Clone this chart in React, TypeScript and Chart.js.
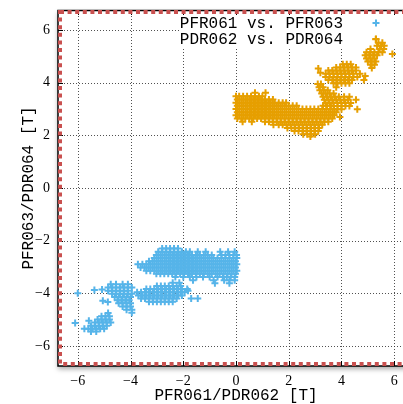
import React, { useEffect, useRef } from "react";
import { Chart, registerables } from "chart.js";
Chart.register(...registerables);

const SERIES_NAMES = ["PFR061 vs. PFR063", "PDR062 vs. PDR064"];
const SERIES_COLORS = ["#56B4E9", "#E69F00"];
const X_TITLE = "PFR061/PDR062 [T]";
const Y_TITLE = "PFR063/PDR064 [T]";
const X_TICKS = [-6, -4, -2, 0, 2, 4, 6];
const Y_TICKS = [-6, -4, -2, 0, 2, 4, 6];
const X_RANGE = [-6.75, 6.75];
const Y_RANGE = [-6.76, 6.76];

// Rows: [y, x1, x2, ...]
const blueUpperRows = [
  [-2.30, -2.8, -2.65, -2.5, -2.35, -2.2],
  [-2.42, -2.95, -2.8, -2.65, -2.5, -2.35, -2.2, -2.05, -1.9, -1.75, -1.45, -1.15, -0.6, -0.3, -0.05],
  [-2.54, -3.02, -2.87, -2.72, -2.57, -2.42, -2.27, -2.12, -1.97, -1.82, -1.67, -1.52, -1.37, -1.22, -1.07, -0.92, -0.55, -0.4, -0.25, -0.1, 0.02],
  [-2.66, -3.1, -2.95, -2.8, -2.65, -2.5, -2.35, -2.2, -2.05, -1.9, -1.75, -1.6, -1.45, -1.3, -1.15, -1.0, -0.85, -0.7, -0.55, -0.4, -0.25, -0.1, 0.03],
  [-2.78, -3.3, -3.17, -3.02, -2.87, -2.72, -2.57, -2.42, -2.27, -2.12, -1.97, -1.82, -1.67, -1.52, -1.37, -1.22, -1.07, -0.92, -0.77, -0.62, -0.47, -0.32, -0.17, -0.02],
  [-2.90, -3.72, -3.55, -3.4, -3.25, -3.1, -2.95, -2.8, -2.65, -2.5, -2.35, -2.2, -2.05, -1.9, -1.75, -1.6, -1.45, -1.3, -1.15, -1.0, -0.85, -0.7, -0.55, -0.4, -0.25, -0.1, 0.03],
  [-3.02, -3.62, -3.47, -3.32, -3.17, -3.02, -2.87, -2.72, -2.57, -2.42, -2.27, -2.12, -1.97, -1.82, -1.67, -1.52, -1.37, -1.22, -1.07, -0.92, -0.77, -0.62, -0.47, -0.32, -0.17, -0.02],
  [-3.14, -3.4, -3.25, -3.1, -2.95, -2.8, -2.65, -2.5, -2.35, -2.2, -2.05, -1.9, -1.75, -1.6, -1.45, -1.3, -1.15, -1.0, -0.85, -0.7, -0.55, -0.4, -0.25, -0.1, 0.03],
  [-3.26, -3.02, -2.87, -2.72, -2.57, -2.42, -2.27, -2.12, -1.97, -1.82, -1.67, -1.52, -1.37, -1.22, -1.07, -0.92, -0.77, -0.62, -0.47, -0.32, -0.17, -0.02],
  [-3.38, -2.3, -2.0, -1.75, -1.5, -1.25, -1.0, -0.7, -0.5, -0.35, -0.2, -0.05],
  [-3.50, -1.63, -0.85, -0.45, -0.25, -0.05],
  [-3.62, -0.8, -0.25],
];
const blueMiddleRows = [
  [-3.60, -2.4, -2.15],
  [-3.72, -3.0, -2.85, -2.7, -2.55, -2.4, -2.25, -2.1],
  [-3.84, -3.4, -3.25, -3.1, -2.95, -2.8, -2.65, -2.5, -2.35, -2.2, -2.05, -1.85],
  [-3.96, -3.75, -3.6, -3.45, -3.3, -3.15, -3.0, -2.85, -2.7, -2.55, -2.4, -2.25, -2.1, -1.95],
  [-4.08, -3.7, -3.55, -3.4, -3.25, -3.1, -2.95, -2.8, -2.65, -2.5, -2.35, -2.2, -2.05],
  [-4.20, -3.6, -3.45, -3.3, -3.15, -3.0, -2.85, -2.7, -2.55, -2.4, -2.25, -1.7, -1.45],
  [-4.32, -3.3, -3.15, -3.0, -2.85, -2.7, -2.55, -2.4],
];
const blueLeftRows = [
  [-3.66, -4.75, -4.55, -4.3, -4.1],
  [-3.78, -4.85, -4.7, -4.55, -4.4, -4.25, -4.1, -3.95],
  [-3.90, -4.85, -4.7, -4.55, -4.4, -4.25, -4.1],
  [-4.02, -4.7, -4.55, -4.4, -4.25, -4.1, -3.95],
  [-4.14, -4.6, -4.45, -4.3, -4.15, -4.0],
  [-4.26, -4.5, -4.35, -4.2, -4.05],
  [-4.38, -4.45, -4.3, -4.15, -4.0],
  [-4.50, -4.3, -4.15, -4.0],
  [-4.62, -4.15, -3.95],
  [-4.74, -3.95],
];
const blueLowerRows = [
  [-4.75, -4.85],
  [-4.87, -5.1, -4.95, -4.8],
  [-4.99, -5.25, -5.1, -4.95, -4.8],
  [-5.11, -5.35, -5.2, -5.05, -4.9, -4.75],
  [-5.23, -5.5, -5.35, -5.2, -5.05, -4.9],
  [-5.35, -5.75, -5.6, -5.45, -5.3, -5.15, -5.0],
  [-5.45, -5.5, -5.3],
];
const blueStray = [
  [-6.0, -4.0], [-5.37, -3.87], [-5.08, -3.85], [-5.05, -4.28], [-4.86, -4.33],
  [-5.58, -5.04], [-6.1, -5.13], [-1.82, -3.9],
];

const orangeMainRows = [
  [3.62, 0.72, 1.12],
  [3.48, 0.0, 0.12, 0.27, 0.42, 0.57, 0.72, 0.87, 1.0],
  [3.36, 0.05, 0.2, 0.35, 0.5, 0.65, 0.8, 0.95, 1.1, 1.25, 1.4],
  [3.24, 0.0, 0.12, 0.27, 0.42, 0.57, 0.72, 0.87, 1.02, 1.17, 1.32, 1.47, 1.62, 1.77, 1.9],
  [3.12, 0.05, 0.2, 0.35, 0.5, 0.65, 0.8, 0.95, 1.1, 1.25, 1.4, 1.55, 1.7, 1.85, 2.0, 2.15, 2.3, 3.3, 3.45, 3.6],
  [3.00, 0.0, 0.12, 0.27, 0.42, 0.57, 0.72, 0.87, 1.02, 1.17, 1.32, 1.47, 1.62, 1.77, 1.92, 2.07, 2.22, 2.37, 2.52, 2.67, 2.82, 2.97, 3.12, 3.27, 3.42, 3.57, 3.72],
  [2.88, 0.05, 0.2, 0.35, 0.5, 0.65, 0.8, 0.95, 1.1, 1.25, 1.4, 1.55, 1.7, 1.85, 2.0, 2.15, 2.3, 2.45, 2.6, 2.75, 2.9, 3.05, 3.2, 3.35, 3.5, 3.65, 3.8],
  [2.76, 0.0, 0.12, 0.27, 0.42, 0.57, 0.72, 0.87, 1.02, 1.17, 1.32, 1.47, 1.62, 1.77, 1.92, 2.07, 2.22, 2.37, 2.52, 2.67, 2.82, 2.97, 3.12, 3.27, 3.42, 3.57, 3.72],
  [2.64, 0.05, 0.2, 0.35, 0.5, 0.65, 0.8, 0.95, 1.1, 1.25, 1.4, 1.55, 1.7, 1.85, 2.0, 2.15, 2.3, 2.45, 2.6, 2.75, 2.9, 3.05, 3.2, 3.35, 3.5, 3.65],
  [2.52, 0.25, 0.6, 1.1, 1.25, 1.4, 1.55, 1.7, 1.85, 2.0, 2.15, 2.3, 2.45, 2.6, 2.75, 2.9, 3.05, 3.2, 3.35, 3.5],
  [2.40, 1.42, 1.62, 1.77, 1.92, 2.07, 2.22, 2.37, 2.52, 2.67, 2.82, 2.97, 3.12, 3.27],
  [2.28, 1.95, 2.1, 2.25, 2.4, 2.55, 2.7, 2.85, 3.0, 3.15],
  [2.16, 2.22, 2.37, 2.52, 2.67, 2.82, 2.97, 3.12],
  [2.04, 2.55, 2.7, 2.85, 3.0],
  [1.96, 2.82],
];
const orangeMidRows = [
  [3.95, 3.1, 3.22],
  [3.83, 3.15, 3.3, 3.8],
  [3.71, 3.18, 3.33, 3.48],
  [3.59, 3.25, 3.4, 3.55, 3.7],
  [3.47, 3.3, 3.45, 3.6, 3.75, 3.9, 4.1, 4.3],
  [3.35, 3.35, 3.5, 3.65, 3.8, 3.95, 4.1, 4.25, 4.55],
  [3.23, 3.4, 3.55, 3.7, 3.85, 4.0, 4.15, 4.35],
  [3.11, 3.7, 3.85, 4.0, 4.15, 4.3],
  [2.99, 3.85, 4.0, 4.6],
];
const orangeUpperRows = [
  [4.70, 4.05, 4.2, 4.35],
  [4.58, 3.8, 3.95, 4.1, 4.25, 4.4, 4.55],
  [4.46, 3.5, 3.65, 3.8, 3.95, 4.1, 4.25, 4.4, 4.55],
  [4.34, 3.4, 3.55, 3.7, 3.85, 4.0, 4.15, 4.3, 4.45, 4.7],
  [4.22, 3.4, 3.55, 3.7, 3.85, 4.0, 4.15, 4.3, 4.45, 4.6],
  [4.10, 3.5, 3.65, 3.8, 3.95, 4.1, 4.25, 4.4, 4.85],
  [3.98, 3.7, 3.85, 4.0, 4.15, 4.3],
];
const orangeTopRows = [
  [5.65, 5.3],
  [5.52, 5.4, 5.55],
  [5.40, 5.35, 5.5, 5.62],
  [5.28, 5.1, 5.45, 5.6],
  [5.16, 4.95, 5.1, 5.25, 5.4, 5.55],
  [5.04, 4.9, 5.05, 5.2, 5.35],
  [4.92, 4.95, 5.1, 5.25],
  [4.80, 5.0, 5.15, 5.3],
  [4.68, 5.1, 5.25],
  [4.56, 5.15],
];
const orangeStray = [
  [3.12, 4.54], [3.2, 4.38], [4.9, 4.25], [5.93, 5.09], [3.94, 2.7],
];

function rowsToPoints(rows: number[][]) {
  return rows.flatMap((r) => r.slice(1).map((x) => ({ x, y: r[0] })));
}
function pairsToPoints(pairs: number[][]) {
  return pairs.map(([x, y]) => ({ x, y }));
}

const blueData = [
  ...rowsToPoints(blueUpperRows),
  ...rowsToPoints(blueMiddleRows),
  ...rowsToPoints(blueLeftRows),
  ...rowsToPoints(blueLowerRows),
  ...pairsToPoints(blueStray),
];
const orangeData = [
  ...rowsToPoints(orangeMainRows),
  ...rowsToPoints(orangeMidRows),
  ...rowsToPoints(orangeUpperRows),
  ...rowsToPoints(orangeTopRows),
  ...pairsToPoints(orangeStray),
];

const MONO = '"Liberation Mono", "DejaVu Sans Mono", monospace';
const SERIF = '"Liberation Serif", "DejaVu Serif", serif';
const POINT_R = 3.5;
const POINT_W = 2;

function fmt(v: number) {
  return v < 0 ? "\u2212" + String(-v) : String(v);
}

function drawCross(ctx: CanvasRenderingContext2D, x: number, y: number, color: string) {
  ctx.save();
  ctx.strokeStyle = color;
  ctx.lineWidth = POINT_W;
  ctx.beginPath();
  ctx.moveTo(x - POINT_R, y);
  ctx.lineTo(x + POINT_R, y);
  ctx.moveTo(x, y - POINT_R);
  ctx.lineTo(x, y + POINT_R);
  ctx.stroke();
  ctx.restore();
}

const framePlugin = {
  id: "frame",
  beforeDraw(chart: any) {
    const { ctx, chartArea: a } = chart;
    ctx.save();
    ctx.shadowColor = "rgba(0,0,0,0.35)";
    ctx.shadowBlur = 5;
    ctx.shadowOffsetY = 3;
    ctx.fillStyle = "#fff";
    ctx.fillRect(a.left, a.top, a.right - a.left, a.bottom - a.top);
    ctx.restore();
  },
  beforeDatasetsDraw(chart: any) {
    const { ctx, chartArea: a, scales } = chart;
    const xs = scales.x;
    const ys = scales.y;
    ctx.save();
    ctx.strokeStyle = "rgba(50,50,50,0.85)";
    ctx.lineWidth = 1;
    ctx.setLineDash([1, 2]);
    for (const v of X_TICKS) {
      const px = Math.round(xs.getPixelForValue(v)) + 0.5;
      ctx.beginPath();
      ctx.moveTo(px, a.top);
      ctx.lineTo(px, a.bottom);
      ctx.stroke();
    }
    for (const v of Y_TICKS) {
      const py = Math.round(ys.getPixelForValue(v)) + 0.5;
      ctx.beginPath();
      ctx.moveTo(a.left, py);
      ctx.lineTo(a.right, py);
      ctx.stroke();
    }
    ctx.setLineDash([]);
    // key box
    ctx.fillStyle = "#fff";
    ctx.fillRect(179, a.top, a.right - 179, 48 - a.top);
    ctx.restore();
  },
  afterDatasetsDraw(chart: any) {
    const { ctx, chartArea: a, scales } = chart;
    const xs = scales.x;
    const ys = scales.y;
    ctx.save();
    // inward ticks
    ctx.strokeStyle = "#000";
    ctx.lineWidth = 1;
    for (const v of X_TICKS) {
      const px = Math.round(xs.getPixelForValue(v)) + 0.5;
      ctx.beginPath();
      ctx.moveTo(px, a.top);
      ctx.lineTo(px, a.top + 5);
      ctx.moveTo(px, a.bottom);
      ctx.lineTo(px, a.bottom - 5);
      ctx.stroke();
    }
    for (const v of Y_TICKS) {
      const py = Math.round(ys.getPixelForValue(v)) + 0.5;
      ctx.beginPath();
      ctx.moveTo(a.left, py);
      ctx.lineTo(a.left + 5, py);
      ctx.moveTo(a.right, py);
      ctx.lineTo(a.right - 5, py);
      ctx.stroke();
    }
    // black frame
    ctx.lineWidth = 1.5;
    ctx.strokeRect(a.left, a.top + 0.5, a.right - a.left, a.bottom - a.top - 0.5);
    // red dashed frame
    ctx.strokeStyle = "#c9504f";
    ctx.lineWidth = 4;
    ctx.setLineDash([4, 3.6]);
    ctx.strokeRect(a.left + 2, a.top + 2, a.right - a.left - 4, a.bottom - a.top - 4);
    ctx.setLineDash([]);
    // key
    ctx.fillStyle = "#000";
    ctx.font = "16px " + MONO;
    ctx.textAlign = "right";
    ctx.textBaseline = "middle";
    ctx.fillText(SERIES_NAMES[0], 343, 24);
    ctx.fillText(SERIES_NAMES[1], 343, 40);
    ctx.restore();
    drawCross(ctx, 376, 23, SERIES_COLORS[0]);
    drawCross(ctx, 376, 39, SERIES_COLORS[1]);
  },
};

export default function App() {
  const ref = useRef<HTMLCanvasElement | null>(null);
  useEffect(() => {
    if (!ref.current) return;
    const chart = new Chart(ref.current, {
      type: "scatter",
      data: {
        datasets: [
          {
            label: SERIES_NAMES[0],
            data: blueData,
            borderColor: SERIES_COLORS[0],
            backgroundColor: SERIES_COLORS[0],
            pointStyle: "cross",
            pointRadius: POINT_R,
            pointBorderWidth: POINT_W,
          },
          {
            label: SERIES_NAMES[1],
            data: orangeData,
            borderColor: SERIES_COLORS[1],
            backgroundColor: SERIES_COLORS[1],
            pointStyle: "cross",
            pointRadius: POINT_R,
            pointBorderWidth: POINT_W,
          },
        ],
      },
      options: {
        animation: false,
        responsive: false,
        maintainAspectRatio: false,
        events: [],
        layout: { padding: { left: 0, top: 10, right: 16, bottom: 0 } },
        plugins: {
          legend: { display: false },
          tooltip: { enabled: false },
        },
        scales: {
          x: {
            type: "linear",
            min: X_RANGE[0],
            max: X_RANGE[1],
            grid: { display: false, drawTicks: false, tickLength: 0 },
            border: { display: false },
            afterBuildTicks: (s: any) => {
              s.ticks = X_TICKS.map((v) => ({ value: v }));
            },
            afterFit: (s: any) => {
              s.height = 38;
              s.paddingLeft = 0;
              s.paddingRight = 0;
              s.paddingTop = 0;
              s.paddingBottom = 0;
            },
            ticks: {
              autoSkip: false,
              maxRotation: 0,
              padding: 7,
              color: "#000",
              font: { family: SERIF, size: 14 },
              callback: (v: any) => fmt(Number(v)),
            },
            title: {
              display: true,
              text: X_TITLE,
              color: "#000",
              font: { family: MONO, size: 16, lineHeight: 1 },
              padding: { top: 0, bottom: 0 },
            },
          },
          y: {
            type: "linear",
            min: Y_RANGE[0],
            max: Y_RANGE[1],
            grid: { display: false, drawTicks: false, tickLength: 0 },
            border: { display: false },
            afterBuildTicks: (s: any) => {
              s.ticks = Y_TICKS.map((v) => ({ value: v }));
            },
            afterFit: (s: any) => {
              s.width = 58;
              s.paddingLeft = 0;
              s.paddingRight = 0;
              s.paddingTop = 0;
              s.paddingBottom = 0;
            },
            ticks: {
              autoSkip: false,
              padding: 8,
              color: "#000",
              font: { family: SERIF, size: 14 },
              callback: (v: any) => fmt(Number(v)),
            },
            title: {
              display: true,
              text: Y_TITLE,
              color: "#000",
              font: { family: MONO, size: 16, lineHeight: 1 },
              padding: { top: 21, bottom: 0 },
            },
          },
        },
      },
      plugins: [framePlugin],
    });
    return () => chart.destroy();
  }, []);
  return (
    <div
      style={{
        position: "fixed",
        left: 0,
        top: 0,
        width: 403,
        height: 404,
        overflow: "hidden",
        background: "#fff",
      }}
    >
      <canvas ref={ref} width={430} height={404} style={{ display: "block", width: 430, height: 404 }} />
    </div>
  );
}
